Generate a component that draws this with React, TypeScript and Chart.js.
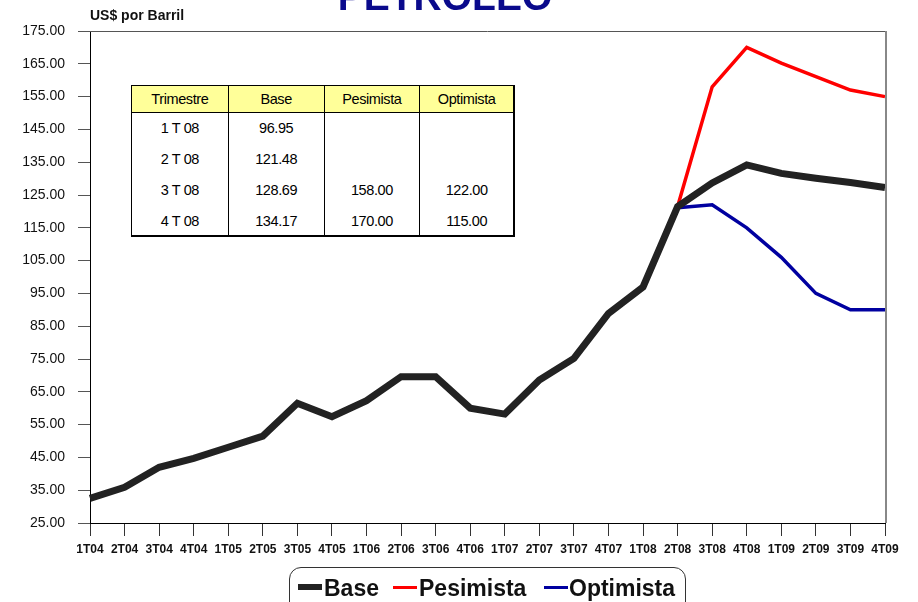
import React, { useEffect, useRef } from "react";
import { Chart, registerables } from "chart.js";

Chart.register(...registerables);

const quarters = [
  "1T04", "2T04", "3T04", "4T04", "1T05", "2T05", "3T05", "4T05",
  "1T06", "2T06", "3T06", "4T06", "1T07", "2T07", "3T07", "4T07",
  "1T08", "2T08", "3T08", "4T08", "1T09", "2T09", "3T09", "4T09",
];

const baseValues = [
  32.5, 35.9, 42.0, 44.7, 48.1, 51.5, 61.5, 57.4,
  62.3, 69.6, 69.6, 60.0, 58.2, 68.6, 75.2, 88.9,
  96.95, 121.48, 128.69, 134.17, 131.6, 130.1, 128.8, 127.3,
];

const pesimistaValues: (number | null)[] = [
  null, null, null, null, null, null, null, null,
  null, null, null, null, null, null, null, null,
  null, 121.48, 158.0, 170.0, 165.2, 161.1, 157.0, 155.0,
];

const optimistaValues: (number | null)[] = [
  null, null, null, null, null, null, null, null,
  null, null, null, null, null, null, null, null,
  null, 121.1, 122.0, 115.0, 106.0, 95.0, 90.0, 90.0,
];

const yMin = 25;
const yMax = 175;
const yStep = 10;

const tableHeaders = ["Trimestre", "Base", "Pesimista", "Optimista"];
const tableQuarters = ["1 T 08", "2 T 08", "3 T 08", "4 T 08"];
const tableBase = ["96.95", "121.48", "128.69", "134.17"];
const tablePesimista = ["", "", "158.00", "170.00"];
const tableOptimista = ["", "", "122.00", "115.00"];

const seriesNames = ["Base", "Pesimista", "Optimista"];
const seriesColors = ["#222222", "#ff0000", "#0000a0"];

const FONT = '"Liberation Sans", Arial, sans-serif';

const frameBorder = {
  id: "frameBorder",
  afterDraw(chart: any) {
    const { ctx, chartArea } = chart;
    ctx.save();
    ctx.strokeStyle = "#555";
    ctx.lineWidth = 1;
    ctx.beginPath();
    ctx.moveTo(chartArea.left, chartArea.top + 0.5);
    ctx.lineTo(chartArea.right, chartArea.top + 0.5);
    ctx.stroke();
    ctx.strokeStyle = "#888";
    ctx.lineWidth = 2;
    ctx.beginPath();
    ctx.moveTo(chartArea.right + 1, chartArea.top);
    ctx.lineTo(chartArea.right + 1, chartArea.bottom);
    ctx.stroke();
    ctx.restore();
  },
};

export default function App() {
  const canvasRef = useRef<HTMLCanvasElement | null>(null);

  useEffect(() => {
    document.body.style.margin = "0";
    const canvas = canvasRef.current;
    if (!canvas) return;
    const chart = new Chart(canvas, {
      type: "line",
      data: {
        labels: quarters,
        datasets: [
          {
            label: seriesNames[0],
            data: baseValues,
            borderColor: seriesColors[0],
            backgroundColor: seriesColors[0],
            borderWidth: 7,
            pointRadius: 0,
            tension: 0,
          },
          {
            label: seriesNames[1],
            data: pesimistaValues,
            borderColor: seriesColors[1],
            backgroundColor: seriesColors[1],
            borderWidth: 3.5,
            pointRadius: 0,
            tension: 0,
          },
          {
            label: seriesNames[2],
            data: optimistaValues,
            borderColor: seriesColors[2],
            backgroundColor: seriesColors[2],
            borderWidth: 3.5,
            pointRadius: 0,
            tension: 0,
          },
        ],
      },
      options: {
        animation: false,
        responsive: false,
        devicePixelRatio: 1,
        layout: { padding: { top: 31, right: 33, bottom: 0, left: 0 } },
        plugins: {
          legend: { display: false },
          tooltip: { enabled: false },
          title: { display: false },
        },
        scales: {
          x: {
            type: "category",
            offset: false,
            afterFit: (scale: any) => {
              scale.height = 79;
            },
            grid: {
              display: true,
              drawOnChartArea: false,
              drawTicks: true,
              tickLength: 13,
              color: "#333",
            },
            border: { display: true, color: "#000", width: 1 },
            ticks: {
              autoSkip: false,
              maxRotation: 0,
              minRotation: 0,
              padding: 6,
              color: "#111",
              font: { family: FONT, size: 12, weight: "bold" },
            },
          },
          y: {
            min: yMin,
            max: yMax,
            afterFit: (scale: any) => {
              scale.width = 90;
            },
            grid: {
              display: true,
              drawOnChartArea: false,
              drawTicks: true,
              tickLength: 12,
              color: "#555",
            },
            border: { display: true, color: "#000", width: 1 },
            ticks: {
              stepSize: yStep,
              padding: 13,
              color: "#111",
              font: { family: FONT, size: 14 },
              callback: (v: any) => Number(v).toFixed(2),
            },
          },
        },
      },
      plugins: [frameBorder],
    });
    return () => chart.destroy();
  }, []);

  const rows = tableQuarters.map((q, i) => [q, tableBase[i], tablePesimista[i], tableOptimista[i]]);

  const cellStyle = (j: number): React.CSSProperties => ({
    width: j === 3 ? 94 : 96,
    boxSizing: "border-box",
    borderLeft: j === 0 ? "none" : "1px solid #000",
    display: "flex",
    alignItems: "center",
    justifyContent: "center",
    height: "100%",
  });

  return (
    <div
      style={{
        position: "relative",
        width: 918,
        height: 602,
        overflow: "hidden",
        background: "#fff",
        fontFamily: FONT,
      }}
    >
      <canvas ref={canvasRef} width={918} height={602} style={{ position: "absolute", left: 0, top: 0 }} />
      <div
        style={{
          position: "absolute",
          left: 0,
          width: 890,
          top: -23,
          textAlign: "center",
          fontSize: 39,
          lineHeight: "39px",
          fontWeight: "bold",
          color: "#0a0a8c",
        }}
      >
        PETROLEO
      </div>
      <div
        style={{
          position: "absolute",
          left: 90,
          top: 7,
          fontSize: 14,
          lineHeight: "16px",
          fontWeight: "bold",
          color: "#111",
        }}
      >
        US$ por Barril
      </div>
      <div
        style={{
          position: "absolute",
          left: 131,
          top: 85,
          width: 384,
          height: 152,
          boxSizing: "border-box",
          border: "1px solid #000",
          borderRight: "2px solid #000",
          borderBottom: "2px solid #000",
          background: "#fff",
          fontSize: 14.5,
          color: "#000",
          letterSpacing: -0.4,
        }}
      >
        <div
          style={{
            display: "flex",
            height: 26,
            background: "#ffff99",
            borderBottom: "1px solid #000",
          }}
        >
          {tableHeaders.map((h, j) => (
            <div key={h} style={cellStyle(j)}>
              {h}
            </div>
          ))}
        </div>
        {rows.map((r, i) => (
          <div key={i} style={{ display: "flex", height: 30.75 }}>
            {r.map((c, j) => (
              <div key={j} style={cellStyle(j)}>
                {c}
              </div>
            ))}
          </div>
        ))}
      </div>
      <div
        style={{
          position: "absolute",
          left: 289,
          top: 567,
          width: 397,
          height: 60,
          boxSizing: "border-box",
          border: "1px solid #333",
          borderRadius: 12,
        }}
      />
      {[
        { sw: 298, swW: 24, th: 6, tx: 324 },
        { sw: 393, swW: 24, th: 3, tx: 419 },
        { sw: 544, swW: 24, th: 3, tx: 569 },
      ].map((it, i) => (
        <React.Fragment key={i}>
          <div
            style={{
              position: "absolute",
              left: it.sw,
              top: 587 - it.th / 2,
              width: it.swW,
              height: it.th,
              background: seriesColors[i],
            }}
          />
          <div
            style={{
              position: "absolute",
              left: it.tx,
              top: 577,
              fontSize: 23,
              lineHeight: "23px",
              fontWeight: "bold",
              color: "#111",
              whiteSpace: "nowrap",
            }}
          >
            {seriesNames[i]}
          </div>
        </React.Fragment>
      ))}
    </div>
  );
}
